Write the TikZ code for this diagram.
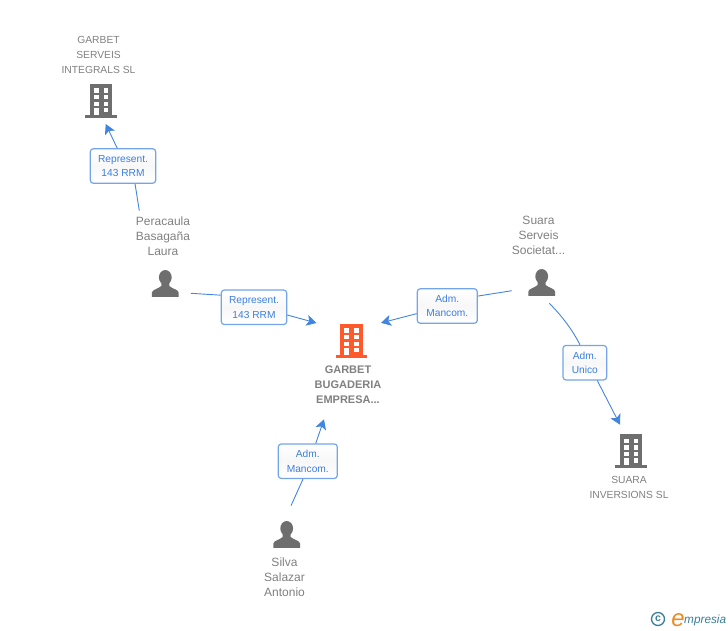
\documentclass[tikz,border=0pt]{standalone}
\usepackage{fontspec}
\setmainfont{Liberation Sans}
\usepackage{xcolor}
\usetikzlibrary{arrows.meta}
\definecolor{linkblue}{HTML}{4285E0}
\definecolor{boxblue}{HTML}{74A5EA}
\definecolor{textblue}{HTML}{3C7FDE}
\definecolor{labelgrey}{HTML}{808080}
\definecolor{icongrey}{HTML}{6E6E6E}
\definecolor{iconorange}{HTML}{FF5A2B}
\definecolor{logoteal}{HTML}{3A7F98}
\definecolor{logoorange}{HTML}{F08A1E}
\tikzset{
	link/.style={draw=linkblue, line width=0.9pt},
	linkarrow/.style={link, -{Stealth[length=10pt,width=11pt,inset=2.5pt]}},
	relbox/.style={draw=boxblue, line width=1.2pt, rounded corners=3pt, top color=white, bottom color=white, middle color=black!3, inner sep=0pt, minimum height=34.5pt, align=center, text=textblue, font=\fontsize{10.2}{14.6}\selectfont},
	entity/.style={align=center, text=labelgrey, inner sep=0pt, font=\fontsize{12}{15}\selectfont},
	capsentity/.style={entity, font=\fontsize{10.3}{15}\selectfont},
	mainentity/.style={align=center, text=labelgrey, inner sep=0pt, font=\fontsize{11}{15}\selectfont\bfseries},
	pics/building/.style={code={
		\fill[#1] (-11.2,0) rectangle (11.2,31);
		\fill[#1] (-15.8,31) rectangle (15.8,34);
		\foreach \wy in {4.3,11,17.7} {
			\fill[white] (-7,\wy) rectangle (-2.4,\wy+4.3);
			\fill[white] (2.7,\wy) rectangle (7.3,\wy+4.3);
		}
		\fill[white] (-7,24) rectangle (-2.4,31);
		\fill[white] (2.7,24) rectangle (7.3,28.3);
	}},
	pics/person/.style={code={
		\fill[icongrey] (0,7.4) ellipse (6.4pt and 7.4pt);
		\fill[icongrey] (-13.4,26.8) -- (-13.4,22.6) .. controls (-13,19.4) and (-7.5,19.2) .. (-4,16) -- (-4,12) -- (4,12) -- (4,16) .. controls (7.5,19.2) and (13,19.4) .. (13.4,22.6) -- (13.4,26.8) -- cycle;
	}}
}

\begin{document}
\begin{tikzpicture}[x=1pt,y=-1pt]
	\useasboundingbox (0,0) rectangle (728,630);

	% icons
	\pic at (101,84) {building=icongrey};
	\pic at (351.3,324) {building=iconorange};
	\pic at (631,434.3) {building=icongrey};
	\pic at (165.3,270) {person};
	\pic at (541.7,269) {person};
	\pic at (286.7,521) {person};

	% names
	\node[capsentity] (nameServeis) at (98.5,55) {GARBET\\SERVEIS\\INTEGRALS SL};
	\node[entity] (namePeracaula) at (163,236) {Peracaula\\Basagaña\\Laura};
	\node[entity] (nameSuara) at (538.5,235) {Suara\\Serveis\\Societat...};
	\node[capsentity] (nameInversions) at (629,487.5) {SUARA\\INVERSIONS SL};
	\node[entity] (nameSilva) at (284.5,577) {Silva\\Salazar\\Antonio};
	\node[mainentity] (nameBugaderia) at (348,385) {GARBET\\BUGADERIA\\EMPRESA...};

	% relation boxes
	\node[relbox, minimum width=65.4pt] (boxServeis) at (123,166) {Represent.\\143 RRM};
	\node[relbox, minimum width=65.4pt] (boxPeracaula) at (254,307.3) {Represent.\\143 RRM};
	\node[relbox, minimum width=60pt] (boxSuara) at (447.3,306) {Adm.\\Mancom.};
	\node[relbox, minimum width=43.7pt] (boxUnico) at (584.8,362.7) {Adm.\\Unico};
	\node[relbox, minimum width=59pt] (boxSilva) at (307.8,461.2) {Adm.\\Mancom.};

	% free ends of the links
	\coordinate (tipServeis) at (105.7,124);
	\coordinate (fromPeracaulaA) at (139.3,210.7);
	\coordinate (fromPeracaulaB) at (191,293.3);
	\coordinate (tipLeft) at (316.5,323);
	\coordinate (tipRight) at (381,322.9);
	\coordinate (fromSuaraA) at (511.7,290.7);
	\coordinate (fromSuaraB) at (549.3,303.3);
	\coordinate (tipInversions) at (620,424.7);
	\coordinate (tipBottom) at (324,419.3);
	\coordinate (fromSilva) at (291,505.7);

	% links
	\draw[link] (fromPeracaulaA) -- (boxServeis.-56.8);
	\draw[linkarrow] (boxServeis.108.5) -- (tipServeis);
	\draw[link] (fromPeracaulaB) -- (boxPeracaula.160.9);
	\draw[linkarrow] (boxPeracaula.-13.2) -- (tipLeft);
	\draw[link] (fromSuaraA) -- (boxSuara.18.4);
	\draw[linkarrow] (boxSuara.194.9) -- (tipRight);
	\draw[link] (fromSuaraB) .. controls (563,317) and (573,331) .. (boxUnico.105.4);
	\draw[linkarrow] (boxUnico.-55.5) -- (tipInversions);
	\draw[link] (fromSilva) -- (boxSilva.255.6);
	\draw[linkarrow] (boxSilva.66.8) -- (tipBottom);

	% logo
	\node[draw=logoteal, line width=1.3pt, circle, minimum size=13pt, inner sep=0pt, text=logoteal, font=\fontsize{10.5}{10}\selectfont\bfseries] (logoMark) at (658,619) {c};
	\node[anchor=base west, inner sep=0pt, text=logoteal, font=\fontsize{11.8}{12}\selectfont\itshape] (logoName) at (684,623) {mpresia};
	\node[anchor=base east, inner sep=0pt, text=logoorange, font=\fontsize{24}{24}\selectfont\itshape] (logoInitial) at (685,626) {e};
\end{tikzpicture}
\end{document}
